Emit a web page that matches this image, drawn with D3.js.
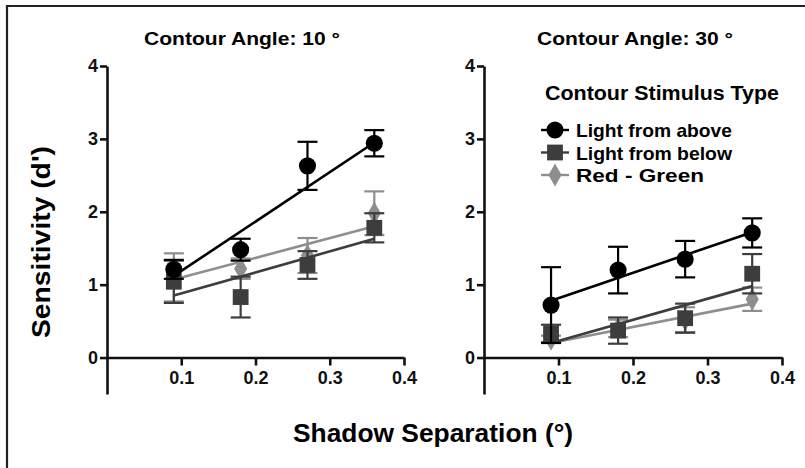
<!DOCTYPE html>
<html>
<head>
<meta charset="utf-8">
<script src="https://cdn.jsdelivr.net/npm/d3@7"></script>
<style>
  body { margin: 0; background: #fff; }
  svg { display: block; font-family: "Liberation Sans", Arial, sans-serif; font-weight: bold; }
  .axis path, .axis line { stroke: #111; stroke-width: 2.6px; }
  .axis text { font-size: 18px; font-weight: bold; fill: #111; font-family: "Liberation Sans", Arial, sans-serif; }
</style>
</head>
<body>
<svg width="805" height="468"></svg>
<script>
// separations (deg)
var separations = [0.09, 0.18, 0.27, 0.36];
var seriesNames = ["Light from above", "Light from below", "Red - Green"];
var panelTitles = ["Contour Angle: 10 \u00b0", "Contour Angle: 30 \u00b0"];

// means and SEM, panel 10 deg
var above10 = [1.21, 1.48, 2.63, 2.94];
var above10Err = [0.13, 0.15, 0.33, 0.18];
var below10 = [1.04, 0.83, 1.27, 1.78];
var below10Err = [0.29, 0.28, 0.19, 0.2];
var rg10 = [1.1, 1.22, 1.4, 1.98];
var rg10Err = [0.33, 0.14, 0.24, 0.3];

// panel 30 deg
var above30 = [0.72, 1.2, 1.35, 1.71];
var above30Err = [0.52, 0.32, 0.25, 0.2];
var below30 = [0.33, 0.37, 0.54, 1.15];
var below30Err = [0.12, 0.18, 0.2, 0.27];
var rg30 = [0.25, 0.4, 0.52, 0.8];
var rg30Err = [0.05, 0.12, 0.17, 0.16];

// fitted line endpoints at x = 0.09 and 0.36
var fitX = [0.09, 0.36];
var fitAbove10 = [1.12, 2.95];
var fitBelow10 = [0.85, 1.63];
var fitRg10 = [1.07, 1.8];
var fitAbove30 = [0.78, 1.72];
var fitBelow30 = [0.2, 0.98];
var fitRg30 = [0.2, 0.74];

var xTicks = [0.1, 0.2, 0.3, 0.4];
var yTicks = [0, 1, 2, 3, 4];

var colors = ["#000000", "#3d3d3d", "#8e8e8e"];
var shapes = [d3.symbolCircle, d3.symbolSquare, d3.symbolDiamond];
var sizes = [230, 250, 150];

var panels = [
  { left: 107, right: 404, title: panelTitles[0], titleX: 242,
    series: [[above10, above10Err, fitAbove10], [below10, below10Err, fitBelow10], [rg10, rg10Err, fitRg10]] },
  { left: 484, right: 782, title: panelTitles[1], titleX: 635,
    series: [[above30, above30Err, fitAbove30], [below30, below30Err, fitBelow30], [rg30, rg30Err, fitRg30]] }
];

const svg = d3.select("svg");

// frame (top and left edge)
svg.append("path")
  .attr("d", "M7,468V6H805")
  .attr("fill", "none")
  .attr("stroke", "#222")
  .attr("stroke-width", 2.2);

var y = d3.scaleLinear().domain([-0.5, 4]).range([394, 66]);

panels.forEach(function(p) {
  var x = d3.scaleLinear().domain([0, 0.4]).range([p.left, p.right]);
  var g = svg.append("g");

  g.append("g")
    .attr("class", "axis")
    .attr("transform", "translate(0," + y(0) + ")")
    .call(d3.axisBottom(x).tickValues(xTicks).tickSize(8).tickSizeOuter(0).tickPadding(6).tickFormat(d3.format(".1f")));

  g.append("g")
    .attr("class", "axis")
    .attr("transform", "translate(" + p.left + ",0)")
    .call(d3.axisLeft(y).tickValues(yTicks).tickSize(7).tickSizeOuter(0).tickPadding(2).tickFormat(d3.format("d")));

  g.append("text")
    .attr("x", p.titleX)
    .attr("y", 45)
    .attr("text-anchor", "middle")
    .attr("font-size", 18)
    .attr("textLength", 196)
    .attr("lengthAdjust", "spacingAndGlyphs")
    .text(p.title);

  // draw in reverse so black is on top
  for (var s = p.series.length - 1; s >= 0; s--) {
    var vals = p.series[s][0], errs = p.series[s][1], fit = p.series[s][2];
    var col = colors[s];

    g.append("line")
      .attr("x1", x(fitX[0])).attr("y1", y(fit[0]))
      .attr("x2", x(fitX[1])).attr("y2", y(fit[1]))
      .attr("stroke", col)
      .attr("stroke-width", 2.6);

    var pts = separations.map(function(d, i) { return { x: d, v: vals[i], e: errs[i] }; });

    var eb = g.append("g").selectAll("g").data(pts).join("g")
      .attr("stroke", col).attr("stroke-width", 2.2);
    eb.append("line")
      .attr("x1", d => x(d.x)).attr("x2", d => x(d.x))
      .attr("y1", d => y(d.v - d.e)).attr("y2", d => y(d.v + d.e));
    eb.append("line")
      .attr("x1", d => x(d.x) - 10).attr("x2", d => x(d.x) + 10)
      .attr("y1", d => y(d.v + d.e)).attr("y2", d => y(d.v + d.e));
    eb.append("line")
      .attr("x1", d => x(d.x) - 10).attr("x2", d => x(d.x) + 10)
      .attr("y1", d => y(d.v - d.e)).attr("y2", d => y(d.v - d.e));

    g.append("g").selectAll("path").data(pts).join("path")
      .attr("transform", d => "translate(" + x(d.x) + "," + y(d.v) + ")")
      .attr("d", d3.symbol().type(shapes[s]).size(sizes[s]))
      .attr("fill", col);
  }
});

// legend
var legend = svg.append("g");
legend.append("text")
  .attr("x", 545).attr("y", 100)
  .attr("font-size", 20)
  .attr("textLength", 234)
  .attr("lengthAdjust", "spacingAndGlyphs")
  .text("Contour Stimulus Type");

var legendWidths = [156, 156, 128];
seriesNames.forEach(function(name, i) {
  var cy = 130 + i * 22.5;
  legend.append("line")
    .attr("x1", 541).attr("x2", 569)
    .attr("y1", cy).attr("y2", cy)
    .attr("stroke", colors[i]).attr("stroke-width", 2.4);
  legend.append("path")
    .attr("transform", "translate(555," + cy + ")")
    .attr("d", d3.symbol().type(shapes[i]).size(sizes[i]))
    .attr("fill", colors[i]);
  legend.append("text")
    .attr("x", 576).attr("y", cy + 7)
    .attr("font-size", 19)
    .attr("textLength", legendWidths[i])
    .attr("lengthAdjust", "spacingAndGlyphs")
    .text(name);
});

// axis titles
svg.append("text")
  .attr("x", 433).attr("y", 442)
  .attr("text-anchor", "middle")
  .attr("font-size", 26)
  .attr("textLength", 280)
  .attr("lengthAdjust", "spacingAndGlyphs")
  .text("Shadow Separation (\u00b0)");

svg.append("text")
  .attr("transform", "translate(50,242) rotate(-90)")
  .attr("text-anchor", "middle")
  .attr("font-size", 26)
  .attr("textLength", 192)
  .attr("lengthAdjust", "spacingAndGlyphs")
  .text("Sensitivity (d')");
</script>
</body>
</html>
